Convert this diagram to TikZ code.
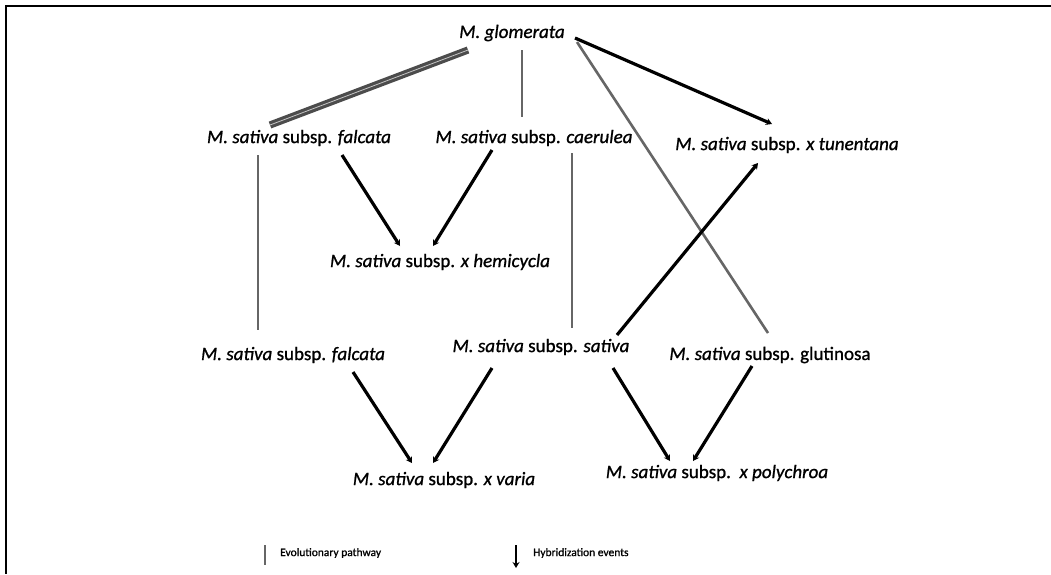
\documentclass[tikz,border=0pt]{standalone}
\usepackage{fontspec}
\setmainfont{Carlito}
\usetikzlibrary{arrows.meta}
\begin{document}
\begin{tikzpicture}[x=1pt,y=-1pt,
  lbl/.style={inner sep=0pt,font=\fontsize{19}{22}\selectfont\addfontfeature{FakeBold=1}},
  leg/.style={inner sep=0pt,font=\fontsize{11.5}{14}\selectfont\addfontfeature{FakeBold=1}},
  evo/.style={draw=gray!80!black,line width=2.2pt},
  evod/.style={draw=gray!60!black,line width=3.2pt,double=gray!45,double distance=0.8pt},
  hyb/.style={draw=black,line width=3.2pt,-{Stealth[length=6pt,width=7pt]}}]
\useasboundingbox (0,0) rectangle (1051,574);
\fill[white] (0,0) rectangle (1051,574);
\draw[line width=2.2pt] (5,6) -- (1051,6);
\draw[line width=2.2pt] (6,5) -- (6,574);

\node[lbl] (glom) at (512,33) {\textit{M. glomerata}};
\node[lbl] (fal1) at (299,138) {\textit{M. sativa} subsp. \textit{falcata}};
\node[lbl] (cae) at (534,138) {\textit{M. sativa} subsp. \textit{caerulea}};
\node[lbl] (tun) at (787,145) {\textit{M. sativa} subsp. \textit{x tunentana}};
\node[lbl] (hem) at (440,262) {\textit{M. sativa} subsp. \textit{x hemicycla}};
\node[lbl] (fal2) at (293,355) {\textit{M. sativa} subsp. \textit{falcata}};
\node[lbl] (sat) at (541,347) {\textit{M. sativa} subsp. \textit{sativa}};
\node[lbl] (glu) at (770,355) {\textit{M. sativa} subsp. glutinosa};
\node[lbl] (var) at (444,480) {\textit{M. sativa} subsp. \textit{x varia}};
\node[lbl] (pol) at (717,473) {\textit{M. sativa} subsp.\ \ \textit{x polychroa}};

\draw[evod] ([shift={(-44,17)}]glom.center) -- ([shift={(-29,-13)}]fal1.center);
\draw[evo] ([shift={(10,17)}]glom.center) -- ([shift={(-12,-21)}]cae.center);
\draw[hyb] ([shift={(63,5)}]glom.center) -- ([shift={(-15,-21)}]tun.center);
\draw[evo,line width=2.6pt] ([shift={(65,9)}]glom.center) -- ([shift={(-2,-22)}]glu.center);
\draw[evo] ([shift={(-41,17)}]fal1.center) -- ([shift={(-35,-25)}]fal2.center);
\draw[evo] ([shift={(38,15)}]cae.center) -- ([shift={(31,-19)}]sat.center);
\draw[hyb] ([shift={(43,17)}]fal1.center) -- ([shift={(-40,-16)}]hem.center);
\draw[hyb] ([shift={(-42,12)}]cae.center) -- ([shift={(-7,-16)}]hem.center);
\draw[hyb] ([shift={(76,-12)}]sat.center) -- ([shift={(-29,18)}]tun.center);
\draw[hyb] ([shift={(60,17)}]fal2.center) -- ([shift={(-32,-17)}]var.center);
\draw[hyb] ([shift={(-49,21)}]sat.center) -- ([shift={(-11,-17)}]var.center);
\draw[hyb] ([shift={(72,21)}]sat.center) -- ([shift={(-47,-12)}]pol.center);
\draw[hyb] ([shift={(-18,11)}]glu.center) -- ([shift={(-24,-12)}]pol.center);

\node[leg,anchor=west] (levo) at (280,553) {Evolutionary pathway};
\node[leg,anchor=west] (lhyb) at (533,553) {Hybridization events};
\coordinate (e1) at (265,545);
\coordinate (e2) at (265,565);
\coordinate (h1) at (516,545);
\coordinate (h2) at (516,568);
\draw[evo] (e1) -- (e2);
\draw[hyb,line width=2.4pt] (h1) -- (h2);
\end{tikzpicture}
\end{document}
